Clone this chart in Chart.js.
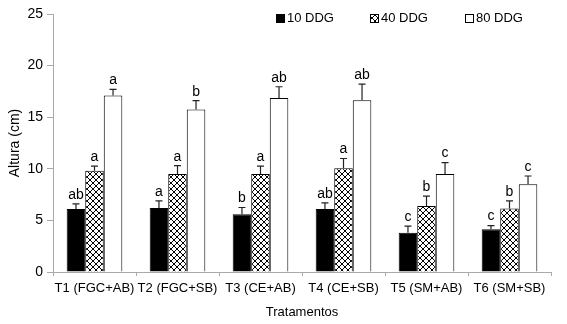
<!DOCTYPE html>
<html lang="pt">
<head>
  <meta charset="UTF-8" />
  <title>Altura (cm)</title>
  <script src="https://cdn.jsdelivr.net/npm/chart.js"></script>
  <style>
    html, body { margin: 0; padding: 0; background: #fff; }
    #chart { display: block; }
  </style>
</head>
<body>
  <canvas id="chart" width="567" height="324"></canvas>

  <script>
    const categories = ['T1 (FGC+AB)', 'T2 (FGC+SB)', 'T3 (CE+AB)', 'T4 (CE+SB)', 'T5 (SM+AB)', 'T6 (SM+SB)'];
    const seriesNames = ['10 DDG', '40 DDG', '80 DDG'];

    const values10 = [6.1, 6.2, 5.6, 6.1, 3.8, 4.15];
    const values40 = [9.8, 9.5, 9.5, 10.05, 6.4, 6.15];
    const values80 = [17.1, 15.75, 16.85, 16.65, 9.5, 8.5];

    const err10 = [0.5, 0.7, 0.65, 0.6, 0.65, 0.35];
    const err40 = [0.45, 0.8, 0.75, 0.95, 0.95, 0.75];
    const err80 = [0.6, 0.85, 1.1, 1.55, 1.1, 0.8];

    const letters10 = ['ab', 'a', 'b', 'ab', 'c', 'c'];
    const letters40 = ['a', 'a', 'a', 'a', 'b', 'b'];
    const letters80 = ['a', 'b', 'ab', 'ab', 'c', 'c'];

    const yTicks = [0, 5, 10, 15, 20, 25];

    const FONT = '"Liberation Sans", Arial, sans-serif';

    // crosshatch fill for the 40 DDG bars
    function makeHatch() {
      const c = document.createElement('canvas');
      c.width = 6; c.height = 6;
      const g = c.getContext('2d');
      g.fillStyle = '#fff';
      g.fillRect(0, 0, 6, 6);
      g.strokeStyle = '#000';
      g.lineWidth = 1;
      g.beginPath();
      g.moveTo(0, 0); g.lineTo(6, 6);
      g.moveTo(6, 0); g.lineTo(0, 6);
      g.stroke();
      return g.createPattern(c, 'repeat');
    }
    const hatch = makeHatch();

    const errors = [err10, err40, err80];
    const letters = [letters10, letters40, letters80];

    // error bars (upper only) + significance letters
    const extras = {
      id: 'extras',
      afterDatasetsDraw(chart) {
        const ctx = chart.ctx;
        const y = chart.scales.y;
        ctx.save();
        chart.data.datasets.forEach((ds, i) => {
          const meta = chart.getDatasetMeta(i);
          meta.data.forEach((bar, j) => {
            const top = y.getPixelForValue(ds.data[j] + errors[i][j]);
            ctx.strokeStyle = '#222';
            ctx.lineWidth = 1.2;
            ctx.beginPath();
            ctx.moveTo(bar.x, bar.y);
            ctx.lineTo(bar.x, top);
            ctx.moveTo(bar.x - 3.5, top);
            ctx.lineTo(bar.x + 3.5, top);
            ctx.stroke();
            ctx.fillStyle = '#000';
            ctx.font = '14px ' + FONT;
            ctx.textAlign = 'center';
            ctx.textBaseline = 'bottom';
            ctx.fillText(letters[i][j], bar.x, top - 2);
          });
        });
        ctx.restore();
      },
      afterDraw(chart) {
        // legend
        const ctx = chart.ctx;
        const items = [
          { x: 276, fill: '#000' },
          { x: 370, fill: hatch },
          { x: 465, fill: '#fff' }
        ];
        ctx.save();
        ctx.font = '13px ' + FONT;
        ctx.textBaseline = 'middle';
        ctx.textAlign = 'left';
        items.forEach((it, i) => {
          ctx.fillStyle = it.fill;
          ctx.fillRect(it.x, 14, 8, 8);
          ctx.strokeStyle = '#000';
          ctx.lineWidth = 1;
          ctx.strokeRect(it.x + 0.5, 14.5, 8, 8);
          ctx.fillStyle = '#000';
          ctx.fillText(seriesNames[i], it.x + 11, 18.5);
        });
        ctx.restore();
      }
    };

    new Chart(document.getElementById('chart'), {
      type: 'bar',
      data: {
        labels: categories,
        datasets: [
          { label: seriesNames[0], data: values10, backgroundColor: '#000', borderColor: '#000', borderWidth: 1 },
          { label: seriesNames[1], data: values40, backgroundColor: hatch, borderColor: '#000', borderWidth: 1 },
          { label: seriesNames[2], data: values80, backgroundColor: '#fff', borderColor: '#000', borderWidth: 1 }
        ]
      },
      options: {
        responsive: false,
        animation: false,
        devicePixelRatio: 1,
        layout: { padding: { top: 14, right: 16, left: 0, bottom: 0 } },
        datasets: { bar: { barPercentage: 1, categoryPercentage: 0.67 } },
        plugins: {
          legend: { display: false },
          tooltip: { enabled: false }
        },
        scales: {
          x: {
            afterFit(scale) { scale.height = 52; },
            grid: { drawOnChartArea: false, color: '#aaa', tickLength: 4, offset: true },
            border: { color: '#aaa' },
            ticks: { color: '#000', font: { family: FONT, size: 13 }, padding: 5, maxRotation: 0, autoSkip: false },
            title: { display: true, text: 'Tratamentos', color: '#000', font: { family: FONT, size: 13 }, padding: { top: 6 } }
          },
          y: {
            min: 0,
            max: 25,
            afterFit(scale) { scale.width = 53; },
            afterBuildTicks(scale) { scale.ticks = yTicks.map(v => ({ value: v })); },
            grid: { drawOnChartArea: false, color: '#aaa', tickLength: 6 },
            border: { color: '#aaa' },
            ticks: { color: '#000', font: { family: FONT, size: 14 }, padding: 4 },
            title: { display: true, text: 'Altura (cm)', color: '#000', font: { family: FONT, size: 14 }, padding: { top: 7, bottom: 0 } }
          }
        }
      },
      plugins: [extras]
    });
  </script>
</body>
</html>
